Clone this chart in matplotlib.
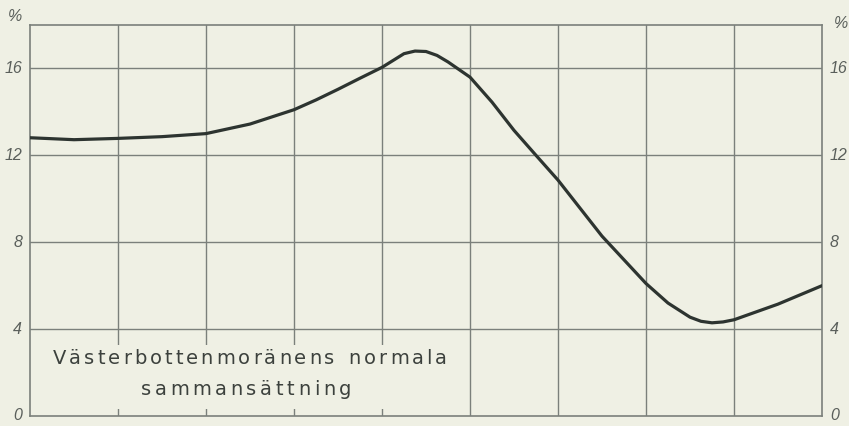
import matplotlib.pyplot as plt
from matplotlib.patches import Rectangle
from matplotlib.font_manager import FontProperties

# kurvan (x = rutnummer, y = procent)
x_vals = [0, 0.5, 1, 1.5, 2, 2.5, 3, 3.25, 3.5, 3.75, 4, 4.25, 4.375, 4.5,
          4.625, 4.75, 5, 5.25, 5.5, 5.75, 6, 6.25, 6.5, 6.75, 7, 7.25, 7.5,
          7.625, 7.75, 7.875, 8, 8.5, 9]
y_vals = [12.81, 12.72, 12.78, 12.86, 13.0, 13.44, 14.1, 14.55, 15.04, 15.55,
          16.05, 16.68, 16.8, 16.78, 16.6, 16.3, 15.6, 14.45, 13.15, 12.0,
          10.86, 9.57, 8.28, 7.19, 6.1, 5.2, 4.55, 4.36, 4.29, 4.33, 4.43,
          5.15, 6.0]

y_ticks = [0, 4, 8, 12, 16]
y_labels = ['0', '4', '8', '12', '16']
text_lines = ['Västerbottenmoränens normala', 'sammansättning']

W, H = 849, 426
paper = '#eff0e4'
grid_col = '#7b807b'
ink = '#2d3430'
label_col = '#5a5f5b'

fig = plt.figure(figsize=(W / 100, H / 100), dpi=100, facecolor=paper)
ax = fig.add_axes([30 / W, 10 / H, 792 / W, 391 / H])
ax.set_facecolor(paper)

ax.set_xlim(0, 9)
ax.set_ylim(0, 18)

# rutnät
for gx in range(1, 9):
    ax.axvline(gx, color=grid_col, lw=1.0, zorder=0.5)
for gy in y_ticks[1:]:
    ax.axhline(gy, color=grid_col, lw=1.0, zorder=0.5)

for sp in ax.spines.values():
    sp.set_color(grid_col)
    sp.set_linewidth(1.2)

ax.set_xticks([])
ax.set_yticks([])

# etiketter på båda sidor
lab_font = dict(family=['Liberation Sans', 'DejaVu Sans'],
                style='italic', fontsize=11.5, color=label_col)
for v, t in zip(y_ticks, y_labels):
    ax.text(-0.09, v, t, ha='right', va='center', **lab_font)
    ax.text(9.09, v, t, ha='left', va='center', **lab_font)
ax.text(-0.09, 18.37, '%', ha='right', va='center', **lab_font)
ax.text(9.14, 18.05, '%', ha='left', va='center', **lab_font)

# kurvan
ax.plot(x_vals, y_vals, color=ink, lw=2.3, solid_capstyle='round',
        solid_joinstyle='round', zorder=3)

# textfältet täcker rutnätet
ax.add_patch(Rectangle((0, 0.3), 4.1, 2.95, facecolor=paper, edgecolor='none',
                       zorder=1))

# spärrad text, tecken för tecken
prop = FontProperties(family='DejaVu Sans', size=14)
renderer = fig.canvas.get_renderer()
space_w = 8


def spaced_text(line, cx, base_y, track):
    widths = []
    for c in line:
        if c == ' ':
            widths.append(space_w)
        else:
            widths.append(renderer.get_text_width_height_descent(c, prop, ismath=False)[0])
    total = sum(widths) + track * (len(line) - 1)
    x = cx - total / 2
    for c, w in zip(line, widths):
        if c != ' ':
            fig.text(x / W, 1 - base_y / H, c, fontproperties=prop, ha='left',
                     va='baseline', color='#3c413d', zorder=5)
        x += w + track


spaced_text(text_lines[0], 250, 364, 3.0)
spaced_text(text_lines[1], 246, 395, 3.6)

fig.savefig('out.png', dpi=100, facecolor=paper)
